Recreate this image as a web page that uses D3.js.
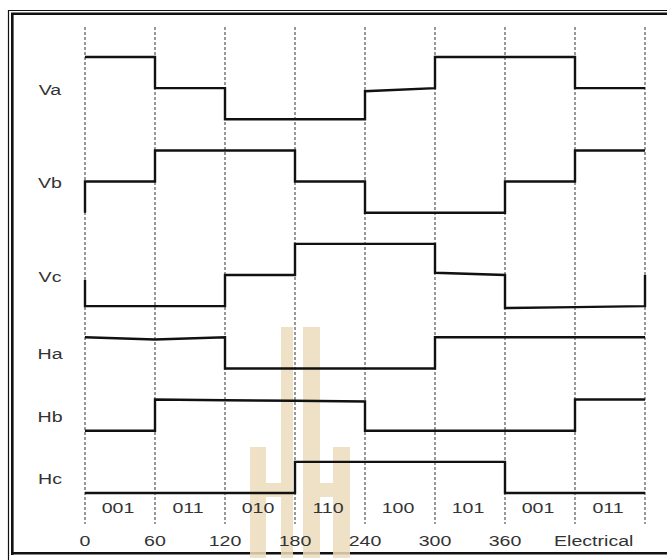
<!DOCTYPE html>
<html>
<head>
<meta charset="utf-8">
<script src="https://cdn.jsdelivr.net/npm/d3@7"></script>
<style>
  html, body { margin: 0; padding: 0; background: #fff; }
  svg { display: block; }
  text { font-family: "Liberation Sans", Arial, sans-serif; font-size: 14px; fill: #333; }
</style>
</head>
<body>
<div id="chart"></div>
<script>
// Data
const angles = [0, 60, 120, 180, 240, 300, 360, 420, 480]
const angleLabels = ['0', '60', '120', '180', '240', '300', '360']
const sectorCodes = ['001', '011', '010', '110', '100', '101', '001', '011']
const signalNames = ['Va', 'Vb', 'Vc', 'Ha', 'Hb', 'Hc']
const signalLevels = [3, 3, 3, 2, 2, 2]
// per 60deg sector: [level at start, level at end]
const va = [[2, 2], [1, 1], [0, 0], [0, 0], [0.9, 1], [2, 2], [2, 2], [1, 1]]
const vb = [[1, 1], [2, 2], [2, 2], [1, 1], [0, 0], [0, 0], [1, 1], [2, 2]]
const vc = [[0, 0], [0, 0], [1, 1], [2, 2], [2, 2], [1.07, 1], [-0.06, -0.03], [-0.03, 0]]
const ha = [[1, 0.93], [0.93, 1], [0, 0], [0, 0], [0, 0], [1, 1], [1, 1], [1, 1]]
const hb = [[0, 0], [1, 0.98], [0.98, 0.96], [0.96, 0.94], [0, 0], [0, 0], [0, 0], [1, 1]]
const hc = [[0, 0], [0, 0], [0, 0], [1, 1], [1, 1], [1, 1], [0, 0], [0, 0]]
const signalSectors = [va, vb, vc, ha, hb, hc]
// level before 0 and after 480 (vertical stubs at the edges)
const signalPre = [null, 0, 0.84, null, null, null]
const signalPost = [null, null, 1, null, null, null]

const width = 667
const height = 560

const svg = d3.select('#chart').append('svg')
    .attr('width', width)
    .attr('height', height)

// Frame
const frame = svg.append('g').attr('fill', 'none').attr('stroke', '#111')
frame.append('path').attr('stroke-width', 1.2).attr('d', 'M8.5,560V10.5H667')
frame.append('path').attr('stroke-width', 2.6).attr('d', 'M12.3,555V13.7H667')
frame.append('path').attr('stroke-width', 2.6).attr('d', 'M11,553.2H667')

// Watermark (background logo)
const mark = svg.append('g').attr('fill', '#eddcbd').attr('opacity', 0.85)
;[
    'M250,447H266V483H281V327H293V558H281V497H266V558H250Z',
    'M303,327H320V558H303Z',
    'M320,483H333V447H350V558H333V497H320Z'
].forEach(d => mark.append('path').attr('d', d))

// Scales
const x = d3.scaleLinear().domain([0, 480]).range([85, 645])

// stacked rows: each row spans (levels - 1) units, with one unit gap
const rowOffset = []
signalLevels.reduce((acc, n, i) => { rowOffset[i] = acc; return acc + n }, 0)
const totalUnits = rowOffset[rowOffset.length - 1] + signalLevels[signalLevels.length - 1] - 1
const y = d3.scaleLinear().domain([0, totalUnits]).range([57, 493])
const yOf = (i, level) => y(rowOffset[i] + (signalLevels[i] - 1 - level))

// Grid
svg.append('g').selectAll('line')
    .data(angles)
    .join('line')
    .attr('x1', d => x(d)).attr('x2', d => x(d))
    .attr('y1', 27).attr('y2', 524)
    .attr('stroke', '#555')
    .attr('stroke-width', 1.2)
    .attr('stroke-dasharray', '3,2')

// Signals
const line = d3.line().x(d => x(d[0])).y(d => d[1])
signalSectors.forEach((sectors, i) => {
    const pts = []
    if (signalPre[i] !== null) pts.push([0, yOf(i, signalPre[i])])
    sectors.forEach((s, k) => {
        pts.push([angles[k], yOf(i, s[0])])
        pts.push([angles[k + 1], yOf(i, s[1])])
    })
    if (signalPost[i] !== null) pts.push([480, yOf(i, signalPost[i])])
    svg.append('path')
        .attr('d', line(pts))
        .attr('fill', 'none')
        .attr('stroke', '#111')
        .attr('stroke-width', 2.4)
        .attr('stroke-linejoin', 'miter')
})

// Labels (stretched horizontally like the source)
const label = (txt, tx, ty, anchor) => svg.append('text')
    .attr('transform', `translate(${tx},${ty}) scale(1.4,1)`)
    .attr('text-anchor', anchor || 'middle')
    .text(txt)

signalNames.forEach((name, i) => {
    const mid = (yOf(i, 0) + yOf(i, signalLevels[i] - 1)) / 2
    label(name, 50, mid + 6.5)
})

sectorCodes.forEach((code, k) => label(code, (x(angles[k]) + x(angles[k + 1])) / 2 - 2, 513))
angleLabels.forEach((t, k) => label(t, x(angles[k]), 546))
label('Electrical', x(420) - 21, 546, 'start')
</script>
</body>
</html>
